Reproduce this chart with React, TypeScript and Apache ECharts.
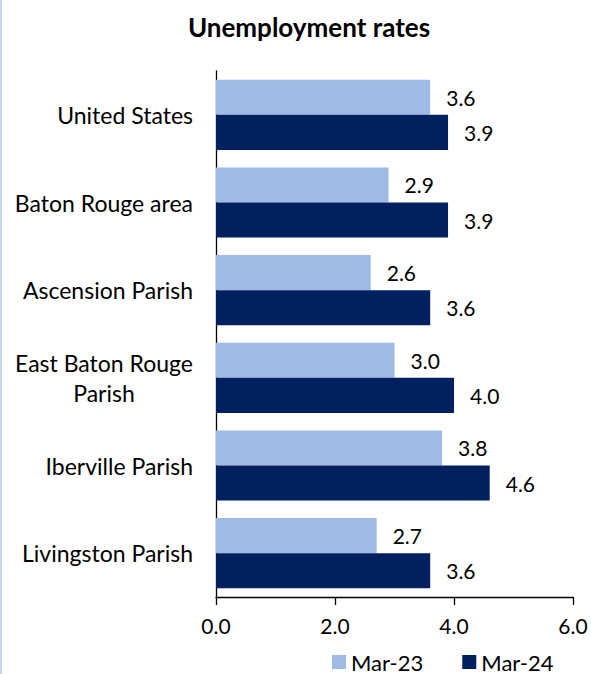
import React, { useEffect, useRef } from "react";
import * as echarts from "echarts";

const categories = [
  "United States",
  "Baton Rouge area",
  "Ascension Parish",
  "East Baton Rouge\nParish",
  "Iberville Parish",
  "Livingston Parish",
];
const mar23 = [3.6, 2.9, 2.6, 3.0, 3.8, 2.7];
const mar24 = [3.9, 3.9, 3.6, 4.0, 4.6, 3.6];
const seriesNames = ["Mar-23", "Mar-24"];
const xTicks = [0, 2, 4, 6];

const LIGHT = "#9DBBE5";
const DARK = "#00205F";
const FONT = "Lato";
const CAT_SIZE = 23;
const NUM_SIZE = 21;

export default function App() {
  const ref = useRef<HTMLDivElement>(null);
  useEffect(() => {
    if (!ref.current) return;
    const chart = echarts.init(ref.current, null, { renderer: "svg" });
    const labelFmt = (p: any) => Number(p.value).toFixed(1);
    chart.setOption({
      animation: false,
      backgroundColor: "#ffffff",
      textStyle: { fontFamily: FONT },
      title: {
        text: "Unemployment rates",
        left: 304,
        textAlign: "center",
        top: 9,
        textStyle: { fontFamily: FONT, fontWeight: "bold", fontSize: 26, color: "#000" },
      },
      legend: {
        data: seriesNames,
        left: 332,
        top: 651,
        padding: 0,
        itemWidth: 14,
        itemHeight: 14,
        itemGap: 39,
        icon: "rect",
        textStyle: { fontFamily: FONT, fontSize: 22, lineHeight: 22, color: "#000" },
      },
      grid: { left: 216, right: 18, top: 71, bottom: 77, containLabel: false },
      xAxis: {
        type: "value",
        min: xTicks[0],
        max: xTicks[xTicks.length - 1],
        interval: 2,
        axisLine: { show: true, lineStyle: { color: "#000", width: 1.3 } },
        axisTick: { show: true, inside: false, length: 8, lineStyle: { color: "#000", width: 1.3 } },
        splitLine: { show: false },
        axisLabel: {
          color: "#000",
          fontFamily: FONT,
          fontSize: NUM_SIZE,
          margin: 18,
          formatter: (v: number) => v.toFixed(1),
        },
      },
      yAxis: {
        type: "category",
        data: categories,
        inverse: true,
        axisLine: { show: true, lineStyle: { color: "#000", width: 1.3 } },
        axisTick: { show: false },
        axisLabel: {
          color: "#000",
          fontFamily: FONT,
          fontSize: CAT_SIZE,
          margin: 23,
          lineHeight: 30,
          formatter: (v: string) => {
            if (v.indexOf("\n") >= 0) {
              const parts = v.split("\n");
              return "{a|" + parts[0] + "}\n{b|" + parts[1] + "}";
            }
            return v;
          },
          rich: {
            a: { fontFamily: FONT, fontSize: CAT_SIZE, color: "#000", lineHeight: 30, align: "center" },
            b: { fontFamily: FONT, fontSize: CAT_SIZE, color: "#000", lineHeight: 30, align: "center" },
          },
        },
      },
      graphic: [
        { type: "rect", left: 0, top: 0, shape: { width: 2, height: 674 }, style: { fill: "#C5D6F0" } },
      ],
      series: [
        {
          name: seriesNames[0],
          type: "bar",
          data: mar23,
          barGap: "0%",
          barCategoryGap: "20%",
          itemStyle: { color: LIGHT },
          label: {
            show: true,
            position: "right",
            distance: 16,
            color: "#000",
            fontFamily: FONT,
            fontSize: NUM_SIZE,
            formatter: labelFmt,
          },
        },
        {
          name: seriesNames[1],
          type: "bar",
          data: mar24,
          barGap: "0%",
          barCategoryGap: "20%",
          itemStyle: { color: DARK },
          label: {
            show: true,
            position: "right",
            distance: 16,
            color: "#000",
            fontFamily: FONT,
            fontSize: NUM_SIZE,
            formatter: labelFmt,
          },
        },
      ],
    });
    return () => chart.dispose();
  }, []);
  return (
    <div
      ref={ref}
      style={{ position: "fixed", left: 0, top: 0, width: 591, height: 674 }}
    />
  );
}
